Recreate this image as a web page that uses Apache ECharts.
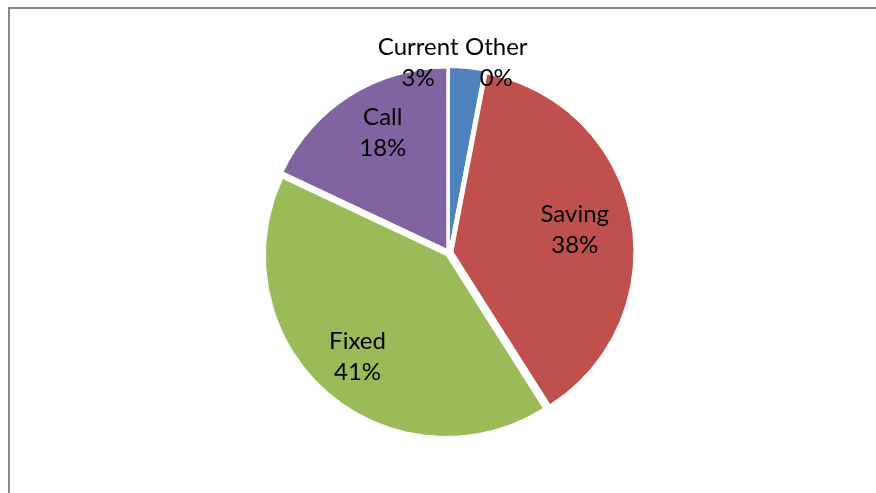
<!DOCTYPE html>
<html><head><meta charset="utf-8">
<script src="https://cdn.jsdelivr.net/npm/echarts@6/dist/echarts.min.js"></script>
<style>html,body{margin:0;padding:0;background:#fff}#c{width:876px;height:493px}</style>
</head><body><div id="c"></div>
<script>
const categories = ['Current', 'Other', 'Saving', 'Fixed', 'Call'];
const values = [3, 0, 38, 41, 18];
const colors = ['#4F81BD', '#4BACC6', '#C0504D', '#9BBB59', '#8064A2'];
// label nudges from default inside position (dx, dy)
const labelShift = [[-40, -93], [29, -94], [30, -4], [-27, 31], [-14, -37]];

const chart = echarts.init(document.getElementById('c'), null, {renderer: 'canvas'});
chart.setOption({
  animation: false,
  backgroundColor: '#fff',
  graphic: [{
    type: 'rect', silent: true, z: 100,
    shape: {x: 9, y: 8, width: 1000, height: 1000},
    style: {fill: 'none', stroke: '#888888', lineWidth: 2}
  }],
  series: [{
    type: 'pie',
    center: [449, 252.5],
    radius: 181,
    startAngle: 90,
    clockwise: true,
    avoidLabelOverlap: false,
    selectedMode: 'multiple',
    selectedOffset: 4,
    itemStyle: {borderColor: '#fff', borderWidth: 1},
    select: {itemStyle: {borderColor: '#fff', borderWidth: 1}},
    label: {
      show: true,
      position: 'inside',
      formatter: '{b}\n{d}%',
      fontFamily: 'Lato',
      fontSize: 24,
      lineHeight: 31,
      color: '#000'
    },
    labelLine: {show: false},
    labelLayout: function (p) {
      const s = labelShift[p.dataIndex];
      return {dx: s[0], dy: s[1]};
    },
    data: categories.map((c, i) => ({
      name: c, value: values[i], selected: true,
      itemStyle: {color: colors[i]},
      select: {itemStyle: {color: colors[i]}}
    }))
  }]
});
</script></body></html>
